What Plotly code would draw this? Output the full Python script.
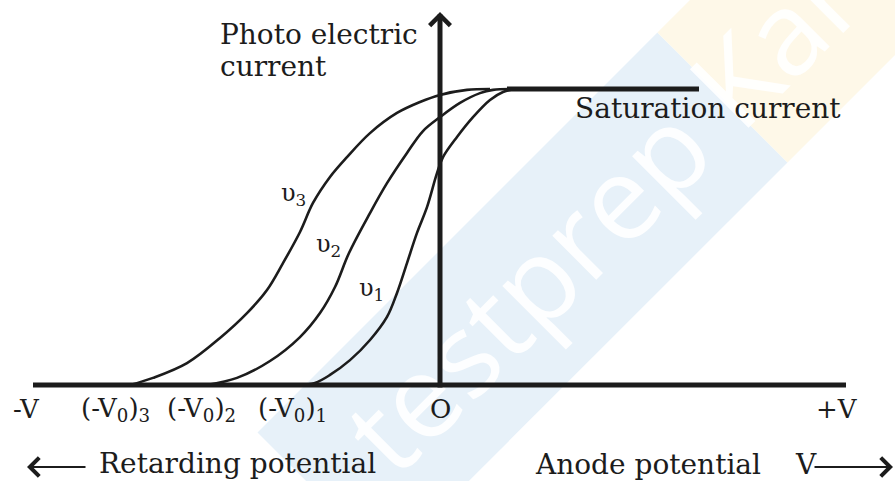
import plotly.graph_objects as go

# ---- data ----
# anode potential (arbitrary units, 0 at the current axis) and photo current (saturation = 1)
v_nu3 = [-3.10, -2.87, -2.53, -2.20, -1.93, -1.73, -1.57, -1.40, -1.27, -1.10, -0.93, -0.70, -0.43, -0.20, 0.00, 0.27, 0.50]
i_nu3 = [0.000, 0.024, 0.074, 0.159, 0.243, 0.321, 0.412, 0.517, 0.615, 0.703, 0.770, 0.851, 0.919, 0.956, 0.980, 0.997, 1.000]

v_nu2 = [-2.33, -2.03, -1.70, -1.40, -1.20, -1.05, -0.91, -0.70, -0.53, -0.33, -0.17, 0.00, 0.20, 0.40, 0.53, 0.70]
i_nu2 = [0.000, 0.024, 0.081, 0.162, 0.243, 0.331, 0.446, 0.581, 0.682, 0.784, 0.858, 0.905, 0.953, 0.986, 0.997, 1.000]

v_nu1 = [-1.40, -1.25, -1.10, -0.90, -0.70, -0.53, -0.43, -0.33, -0.23, -0.13, -0.03, 0.03, 0.17, 0.33, 0.50, 0.63, 0.75]
i_nu1 = [0.000, 0.007, 0.034, 0.084, 0.152, 0.230, 0.311, 0.412, 0.514, 0.601, 0.716, 0.770, 0.838, 0.905, 0.963, 0.990, 1.000]

saturation_current = 1.0
saturation_v = [0.67, 2.59]

curve_labels = ["υ<sub>3</sub>", "υ<sub>2</sub>", "υ<sub>1</sub>"]
curve_label_v = [-1.47, -1.12, -0.69]
curve_label_i = [0.642, 0.473, 0.321]

tick_labels = ["-V", "(-V<sub>0</sub>)<sub>3</sub>", "(-V<sub>0</sub>)<sub>2</sub>", "(-V<sub>0</sub>)<sub>1</sub>", "O", "+V"]
tick_positions = [-4.14, -3.25, -2.39, -1.48, 0.0, 3.97]

x_axis_extent = [-4.07, 4.06]
y_axis_top = 1.26

INK = "#1c1c1c"
FONT = "DejaVu Serif"

fig = go.Figure()

# ---- watermark bands (decorative background, paper coordinates) ----
fig.add_shape(type="path", xref="paper", yref="paper", layer="below",
              path="M 0.2877 0.1008 L 0.4330 -0.1690 L 0.8799 0.6622 L 0.7346 0.9324 Z",
              fillcolor="#E7F1F9", line=dict(width=0))
fig.add_shape(type="path", xref="paper", yref="paper", layer="below",
              path="M 0.7346 0.9324 L 0.8799 0.6622 L 1.1453 1.1559 L 1.0 1.4262 Z",
              fillcolor="#FEF8E8", line=dict(width=0))
fig.add_shape(type="line", xref="paper", yref="paper", layer="below",
              x0=0.359, y0=-0.045, x1=1.029, y1=1.202,
              line=dict(width=0, color="rgba(0,0,0,0)"),
              label=dict(text="testprep Kart", textposition="middle", yanchor="middle",
                         font=dict(family="Open Sans", size=116, color="rgba(255,255,255,0.9)")))

# ---- curves ----
for v, i in [(v_nu3, i_nu3), (v_nu2, i_nu2), (v_nu1, i_nu1)]:
    fig.add_trace(go.Scatter(x=v, y=i, mode="lines",
                             line=dict(color=INK, width=2.6, shape="spline", smoothing=1.0),
                             hoverinfo="skip", showlegend=False))

# saturation line
fig.add_trace(go.Scatter(x=saturation_v, y=[saturation_current] * 2, mode="lines",
                         line=dict(color=INK, width=5), hoverinfo="skip", showlegend=False))

# ---- axes drawn as lines ----
fig.add_shape(type="line", xref="x", yref="y", x0=x_axis_extent[0], x1=x_axis_extent[1], y0=0, y1=0,
              line=dict(color=INK, width=5))
fig.add_shape(type="line", xref="x", yref="y", x0=0, x1=0, y0=-0.008, y1=y_axis_top - 0.008,
              line=dict(color=INK, width=5))

annotations = []
# y axis arrow head
annotations.append(dict(x=0, y=y_axis_top, ax=0, ay=y_axis_top - 0.08, xref="x", yref="y",
                        axref="x", ayref="y", text="", showarrow=True, arrowhead=4,
                        arrowsize=1.6, arrowwidth=2.5, arrowcolor=INK))
# bottom direction arrows
annotations.append(dict(x=-4.13, y=-0.277, ax=-3.53, ay=-0.277, xref="x", yref="y",
                        axref="x", ayref="y", text="", showarrow=True, arrowhead=4,
                        arrowsize=1.9, arrowwidth=1.9, arrowcolor=INK))
annotations.append(dict(x=4.53, y=-0.277, ax=3.73, ay=-0.277, xref="x", yref="y",
                        axref="x", ayref="y", text="", showarrow=True, arrowhead=4,
                        arrowsize=1.9, arrowwidth=1.9, arrowcolor=INK))

# texts
annotations.append(dict(x=-2.22, y=(385 - 34) / 296, xref="x", yref="y", xanchor="left", yanchor="middle",
                        text="Photo electric", showarrow=False,
                        font=dict(family=FONT, size=28, color=INK)))
annotations.append(dict(x=-2.22, y=(385 - 66) / 296, xref="x", yref="y", xanchor="left", yanchor="middle",
                        text="current", showarrow=False,
                        font=dict(family=FONT, size=28, color=INK)))
annotations.append(dict(x=1.33, y=(385 - 108.5) / 296, xref="x", yref="y", xanchor="left", yanchor="middle",
                        text="Saturation current", showarrow=False,
                        font=dict(family=FONT, size=28, color=INK)))
for t, vx, iy in zip(curve_labels, curve_label_v, curve_label_i):
    annotations.append(dict(x=vx, y=iy, xref="x", yref="y", text=t, showarrow=False,
                            font=dict(family=FONT, size=24, color=INK)))
for t, vx in zip(tick_labels, tick_positions):
    annotations.append(dict(x=vx, y=-(409 - 385) / 296, xref="x", yref="y", text=t, showarrow=False,
                            yanchor="middle", font=dict(family=FONT, size=26, color=INK)))
annotations.append(dict(x=-3.43, y=-(463 - 385) / 296, xref="x", yref="y", xanchor="left", yanchor="middle",
                        text="Retarding potential", showarrow=False,
                        font=dict(family=FONT, size=28, color=INK)))
annotations.append(dict(x=0.93, y=-(464 - 385) / 296, xref="x", yref="y", xanchor="left", yanchor="middle",
                        text="Anode potential", showarrow=False,
                        font=dict(family=FONT, size=28, color=INK)))
annotations.append(dict(x=3.53, y=-(464 - 385) / 296, xref="x", yref="y", xanchor="left", yanchor="middle",
                        text="V", showarrow=False,
                        font=dict(family=FONT, size=28, color=INK)))

fig.update_layout(
    width=895, height=481,
    margin=dict(l=0, r=0, t=0, b=0),
    paper_bgcolor="white", plot_bgcolor="white",
    xaxis=dict(range=[-4.40, 4.55], visible=False, fixedrange=True),
    yaxis=dict(range=[-0.3243, 1.3007], visible=False, fixedrange=True),
    annotations=annotations,
    showlegend=False,
)

fig.write_html("out.html", config={"displayModeBar": False},
               post_script="document.body.style.margin='0px';document.body.style.overflow='hidden';")
